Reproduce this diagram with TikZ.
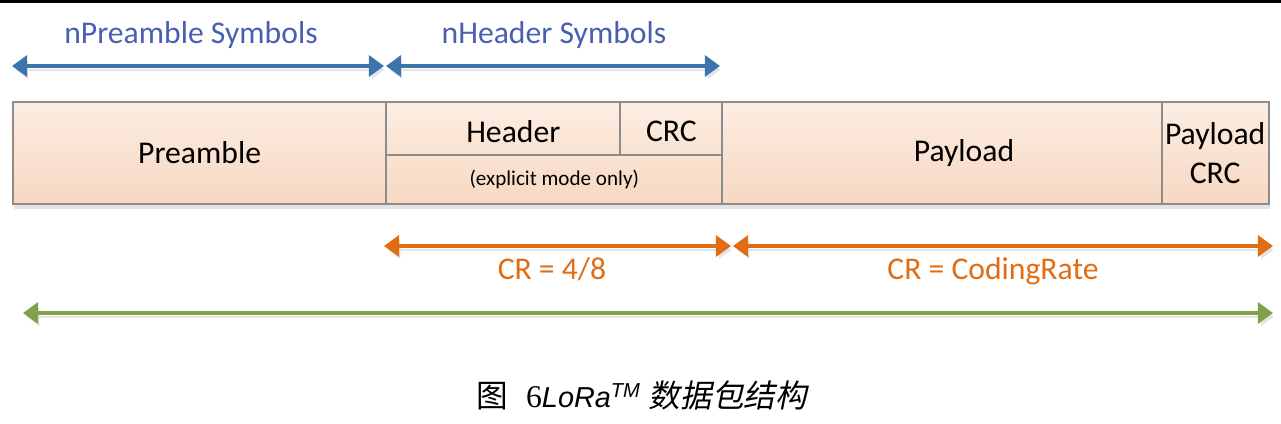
\documentclass[tikz,border=0pt]{standalone}
\usepackage{fontspec}
\setmainfont{Carlito}
\newfontfamily\cjk{Noto Sans CJK SC}
\newfontfamily\cjkslant[FakeSlant=0.2]{Noto Sans CJK SC}
\newfontfamily\capsans{Liberation Sans}
\newfontfamily\capserif{Liberation Serif}
\usetikzlibrary{arrows.meta,shadows}

\definecolor{lineblue}{RGB}{62,116,172}
\definecolor{textblue}{RGB}{74,94,178}
\definecolor{crorange}{RGB}{226,108,18}
\definecolor{allgreen}{RGB}{128,160,76}
\definecolor{boxgray}{RGB}{140,140,140}
\definecolor{peachtop}{RGB}{252,237,226}
\definecolor{peachmid}{RGB}{250,227,209}
\definecolor{peachbot}{RGB}{247,216,193}

\begin{document}
\begin{tikzpicture}[x=0.01cm,y=-0.01cm,
    font=\fontsize{9}{11}\selectfont,
    fieldbox/.style={draw=boxgray,line width=0.6pt,inner sep=0pt,outer sep=0pt,
      anchor=north west,top color=peachtop,bottom color=peachbot,
      drop shadow={shadow xshift=0.3pt,shadow yshift=-1.3pt,fill=black!10,opacity=1}},
    >={Triangle[length=4.3pt,width=6pt]},
    dimarrow/.style={<->,line width=0.9pt,
      preaction={draw=black!10,transform canvas={shift={(0.6pt,-1.1pt)}}}},
    bluelbl/.style={text=textblue,anchor=base,inner sep=0pt},
    orangelbl/.style={text=crorange,anchor=base,inner sep=0pt}]
  \useasboundingbox (0,0) rectangle (1281,424);
  \fill[black] (0,0) rectangle (1281,2.5);

  % packet fields
  \node[fieldbox,minimum width=3.73cm,minimum height=1.02cm] (pre) at (13,102) {Preamble};
  \node[fieldbox,minimum width=2.34cm,minimum height=0.53cm,bottom color=peachmid,
    label={[xshift=0.1cm,yshift=-0.03cm]center:Header}] (hdr) at (pre.north east) {};
  \node[fieldbox,minimum width=1.02cm,minimum height=0.53cm,bottom color=peachmid,
    label={[yshift=-0.03cm]center:CRC}] (hcrc) at (hdr.north east) {};
  \node[fieldbox,minimum width=3.36cm,minimum height=0.49cm,top color=peachmid,
    font=\fontsize{6}{7}\selectfont] (expl) at (hdr.south west) {(explicit mode only)};
  \node[fieldbox,minimum width=4.39cm,minimum height=1.02cm,
    label={[xshift=0.22cm]center:Payload}] (pay) at (hcrc.north east) {};
  \node[fieldbox,minimum width=1.07cm,minimum height=1.02cm,align=center] (pcrc) at (pay.north east) {Payload\\CRC};

  % arrow ends
  \coordinate (preL) at (12,66);
  \coordinate (preR) at (384,66);
  \coordinate (hdrL) at (386,66);
  \coordinate (hdrR) at (720,66);
  \coordinate (cr1L) at (384,246);
  \coordinate (cr1R) at (731,246);
  \coordinate (cr2L) at (733,246);
  \coordinate (cr2R) at (1273,246);
  \coordinate (allL) at (23,313);
  \coordinate (allR) at (1273,313);

  \draw[dimarrow,lineblue] (preL) -- (preR);
  \draw[dimarrow,lineblue] (hdrL) -- (hdrR);
  \draw[dimarrow,crorange] (cr1L) -- (cr1R);
  \draw[dimarrow,crorange] (cr2L) -- (cr2R);
  \draw[dimarrow,allgreen] (allL) -- (allR);

  \node[bluelbl] (preLbl) at (191,43) {nPreamble Symbols};
  \node[bluelbl] (hdrLbl) at (554,43) {nHeader Symbols};
  \node[orangelbl] (cr1Lbl) at (552,279) {CR = 4/8};
  \node[orangelbl] (cr2Lbl) at (993,279) {CR = CodingRate};

  % caption
  \node (cap) at (642,395) {{\cjk 图}\hspace{5pt}{\capserif 6}{\capsans\itshape\fontsize{8.2}{10}\selectfont LoRa\textsuperscript{TM}}\hspace{2pt}{\cjkslant 数据包结构}};
\end{tikzpicture}
\end{document}
